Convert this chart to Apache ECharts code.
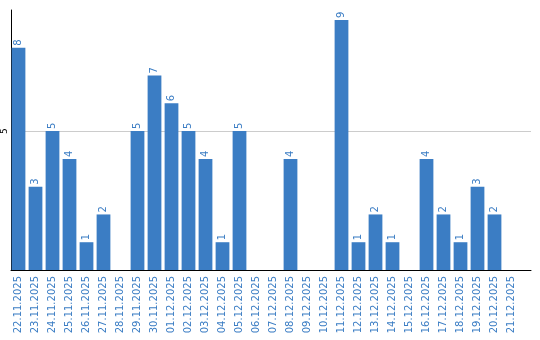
<!DOCTYPE html>
<html><head><meta charset="utf-8">
<script src="https://cdn.jsdelivr.net/npm/echarts@6/dist/echarts.min.js"></script>
<style>html,body{margin:0;padding:0;background:#fff}#c{width:540px;height:340px}</style>
</head><body><div id="c"></div>
<script>
const categories = ['22.11.2025','23.11.2025','24.11.2025','25.11.2025','26.11.2025','27.11.2025','28.11.2025','29.11.2025','30.11.2025','01.12.2025','02.12.2025','03.12.2025','04.12.2025','05.12.2025','06.12.2025','07.12.2025','08.12.2025','09.12.2025','10.12.2025','11.12.2025','12.12.2025','13.12.2025','14.12.2025','15.12.2025','16.12.2025','17.12.2025','18.12.2025','19.12.2025','20.12.2025','21.12.2025'];
const values = [8,3,5,4,1,2,0,5,7,6,5,4,1,5,0,0,4,0,0,9,1,2,1,0,4,2,1,3,2,0];
const yTicks = [5];
const yMax = 9.36;
const chart = echarts.init(document.getElementById('c'));
chart.setOption({
  animation: false,
  grid: [
    {left: 10, right: 9, top: 10, bottom: 70},
    {left: 10, right: 20, top: 10, bottom: 70}
  ],
  xAxis: [
    {type: 'value', gridIndex: 0, min: 0, max: 1,
      axisLine: {show: true, onZero: false, lineStyle: {color: '#000', width: 1}},
      axisTick: {show: false}, axisLabel: {show: false}, splitLine: {show: false}},
    {type: 'category', gridIndex: 1, data: categories,
      axisLine: {show: false}, axisTick: {show: false},
      axisLabel: {rotate: 90, interval: 0, color: '#3b7dc4', fontFamily: 'DejaVu Sans', fontSize: 10, margin: 6}}
  ],
  yAxis: [
    {type: 'value', gridIndex: 0, min: 0, max: yMax, interval: 5, z: 0,
      axisLine: {show: true, lineStyle: {color: '#000', width: 1}},
      axisTick: {show: false},
      splitLine: {show: true, showMinLine: false, showMaxLine: false, lineStyle: {color: '#cccccc', width: 1}},
      axisLabel: {rotate: 90, color: '#000', fontFamily: 'DejaVu Sans', fontSize: 9, margin: 2,
        formatter: v => yTicks.includes(v) ? String(v) : ''}},
    {type: 'value', gridIndex: 1, min: 0, max: yMax, show: false}
  ],
  series: [
    {type: 'bar', xAxisIndex: 1, yAxisIndex: 1, data: values, barCategoryGap: '19%', z: 10, zlevel: 1,
      itemStyle: {color: '#3b7dc4'},
      label: {show: true, position: 'top', rotate: 90, align: 'left', verticalAlign: 'middle', distance: 2,
        color: '#3b7dc4', fontFamily: 'DejaVu Sans', fontSize: 10,
        formatter: p => p.value ? String(p.value) : ''}}
  ]
});
</script></body></html>
